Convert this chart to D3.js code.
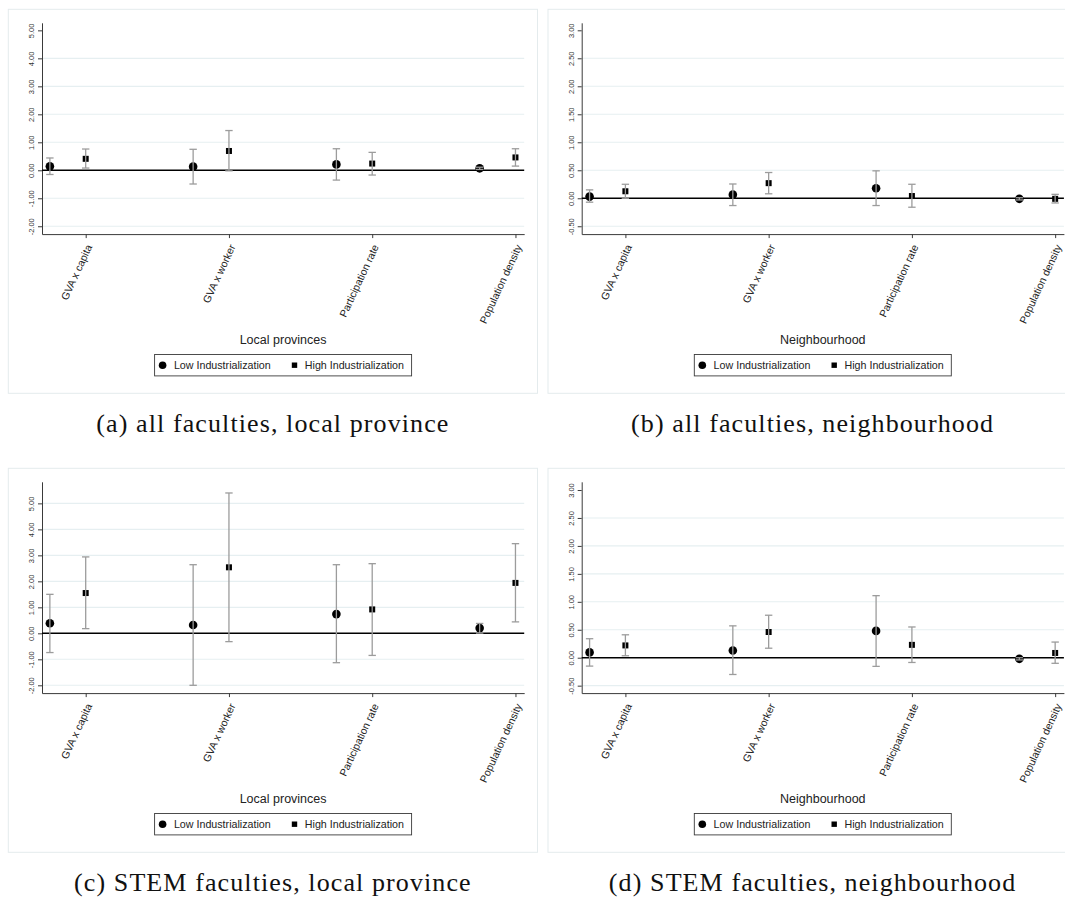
<!DOCTYPE html>
<html>
<head>
<meta charset="utf-8">
<script src="https://cdn.jsdelivr.net/npm/d3@7"></script>
<style>
  body { margin: 0; background: #ffffff; }
  svg { display: block; }
</style>
</head>
<body>
<svg id="fig" width="1065" height="897"></svg>
<script>
// Outcome variables on the x axis
const categories = ["GVA x capita", "GVA x worker", "Participation rate", "Population density"];
const seriesNames = ["Low Industrialization", "High Industrialization"];

// Y tick values
const ticksLocal = [-2, -1, 0, 1, 2, 3, 4, 5];
const ticksNeigh = [-0.5, 0, 0.5, 1, 1.5, 2, 2.5, 3];

// Y axis ranges
const rangeAllLocal = [-2.28, 5.27];
const rangeAllNeigh = [-0.64, 3.134];
const rangeStemLocal = [-2.30, 5.83];
const rangeStemNeigh = [-0.633, 3.147];

const axisTitles = ["Local provinces", "Neighbourhood", "Local provinces", "Neighbourhood"];
const captions = [
  "(a) all faculties, local province",
  "(b) all faculties, neighbourhood",
  "(c) STEM faculties, local province",
  "(d) STEM faculties, neighbourhood"
];

// (a) all faculties, local province: coefficient, lower and upper CI bounds
const allLocalLow     = [0.14, 0.13, 0.21, 0.07];
const allLocalLowLo   = [-0.15, -0.49, -0.35, 0.03];
const allLocalLowHi   = [0.44, 0.75, 0.77, 0.11];
const allLocalHigh    = [0.41, 0.69, 0.24, 0.46];
const allLocalHighLo  = [0.08, -0.02, -0.17, 0.15];
const allLocalHighHi  = [0.76, 1.42, 0.64, 0.77];

// (b) all faculties, neighbourhood
const allNeighLow     = [0.03, 0.065, 0.18, -0.01];
const allNeighLowLo   = [-0.07, -0.13, -0.13, -0.03];
const allNeighLowHi   = [0.15, 0.255, 0.49, 0.01];
const allNeighHigh    = [0.125, 0.27, 0.04, -0.01];
const allNeighHighLo  = [0.0, 0.08, -0.16, -0.084];
const allNeighHighHi  = [0.25, 0.46, 0.25, 0.07];

// (c) STEM faculties, local province
const stemLocalLow    = [0.385, 0.32, 0.74, 0.20];
const stemLocalLowLo  = [-0.74, -2.0, -1.13, 0.01];
const stemLocalLowHi  = [1.50, 2.64, 2.64, 0.38];
const stemLocalHigh   = [1.55, 2.54, 0.92, 1.94];
const stemLocalHighLo = [0.18, -0.32, -0.85, 0.44];
const stemLocalHighHi = [2.94, 5.40, 2.68, 3.45];

// (d) STEM faculties, neighbourhood
const stemNeighLow    = [0.095, 0.13, 0.48, -0.02];
const stemNeighLowLo  = [-0.15, -0.30, -0.155, -0.04];
const stemNeighLowHi  = [0.34, 0.57, 1.11, 0.0];
const stemNeighHigh   = [0.22, 0.46, 0.23, 0.085];
const stemNeighHighLo = [0.035, 0.17, -0.085, -0.10];
const stemNeighHighHi = [0.41, 0.76, 0.55, 0.28];

const panels = [
  { ticks: ticksLocal, range: rangeAllLocal,
    low: [allLocalLow, allLocalLowLo, allLocalLowHi], high: [allLocalHigh, allLocalHighLo, allLocalHighHi] },
  { ticks: ticksNeigh, range: rangeAllNeigh,
    low: [allNeighLow, allNeighLowLo, allNeighLowHi], high: [allNeighHigh, allNeighHighLo, allNeighHighHi] },
  { ticks: ticksLocal, range: rangeStemLocal,
    low: [stemLocalLow, stemLocalLowLo, stemLocalLowHi], high: [stemLocalHigh, stemLocalHighLo, stemLocalHighHi] },
  { ticks: ticksNeigh, range: rangeStemNeigh,
    low: [stemNeighLow, stemNeighLowLo, stemNeighLowHi], high: [stemNeighHigh, stemNeighHighLo, stemNeighHighHi] }
];

// ---- layout ----
const svg = d3.select("#fig");
const frameW = 529.2, frameH = 384;
const origins = [[8.3, 9.3], [548, 9.3], [8.3, 468.3], [548, 468.3]];
const plotL = 33.7, plotR = 515.9, plotT = 13.5, plotB = 224.8;
const sans = "'Liberation Sans', Arial, sans-serif";
const serif = "'Liberation Serif', 'Times New Roman', serif";
const ciColor = "#9c9c9c";
const fmt = d => d.toFixed(2);

const rows = d => categories.map((c, k) => ({ k, coef: d[0][k], lo: d[1][k], hi: d[2][k] }));

panels.forEach((p, i) => {
  const g = svg.append("g").attr("transform", `translate(${origins[i][0]},${origins[i][1]})`);

  g.append("rect")
    .attr("x", 0).attr("y", 0).attr("width", frameW).attr("height", frameH)
    .attr("fill", "#ffffff").attr("stroke", "#e4ebed").attr("stroke-width", 1);

  const x = d3.scaleLinear().domain([0.695, 4.061]).range([plotL, plotR]);
  const y = d3.scaleLinear().domain(p.range).range([plotB, plotT]);

  // horizontal grid lines (none close to the top of the plot region)
  g.append("g").selectAll("line")
    .data(p.ticks.filter(t => t !== 0 && y(t) > plotT + 10))
    .join("line")
    .attr("x1", plotL).attr("x2", plotR)
    .attr("y1", d => y(d)).attr("y2", d => y(d))
    .attr("stroke", "#e6eff1").attr("stroke-width", 1.1);

  // y axis
  const ya = g.append("g")
    .attr("transform", `translate(${plotL},0)`)
    .call(d3.axisLeft(y).tickValues(p.ticks).tickFormat(fmt).tickSize(4).tickSizeOuter(0));
  ya.select(".domain").attr("stroke", "#3a3a3a").attr("stroke-width", 1);
  ya.selectAll(".tick line").attr("stroke", "#3a3a3a");
  ya.selectAll(".tick text")
    .attr("x", null).attr("dy", null)
    .attr("transform", "translate(-7.6,0) rotate(-90)")
    .attr("text-anchor", "middle")
    .attr("font-family", sans).attr("font-size", 7.5).attr("fill", "#333");

  // x axis
  const xa = g.append("g")
    .attr("transform", `translate(0,${plotB})`)
    .call(d3.axisBottom(x).tickValues([1, 2, 3, 4]).tickFormat(v => categories[v - 1]).tickSize(4).tickSizeOuter(0));
  xa.select(".domain").attr("stroke", "#3a3a3a").attr("stroke-width", 1);
  xa.selectAll(".tick line").attr("stroke", "#3a3a3a");
  xa.selectAll(".tick text")
    .attr("y", null).attr("dy", "0.35em")
    .attr("transform", "translate(3,11) rotate(-65)")
    .attr("text-anchor", "end")
    .attr("font-family", sans).attr("font-size", 10.5).attr("fill", "#222");

  // reference line at zero
  g.append("line")
    .attr("x1", plotL).attr("x2", plotR)
    .attr("y1", y(0)).attr("y2", y(0))
    .attr("stroke", "#000").attr("stroke-width", 1.6);

  const low = rows(p.low), high = rows(p.high);
  const lowX = d => x(d.k + 1 - 0.25);
  const highX = d => x(d.k + 1);

  // point estimates
  g.append("g").selectAll("circle").data(low).join("circle")
    .attr("cx", lowX).attr("cy", d => y(d.coef)).attr("r", 4.3).attr("fill", "#000");
  g.append("g").selectAll("rect").data(high).join("rect")
    .attr("x", d => highX(d) - 3).attr("y", d => y(d.coef) - 3)
    .attr("width", 6).attr("height", 6).attr("fill", "#000");

  // confidence intervals with caps
  const drawCI = (data, xf) => {
    const cg = g.append("g").attr("stroke", ciColor).attr("stroke-width", 1.3).attr("fill", "none");
    cg.selectAll(".v").data(data).join("line").attr("class", "v")
      .attr("x1", xf).attr("x2", xf).attr("y1", d => y(d.lo)).attr("y2", d => y(d.hi));
    cg.selectAll(".t").data(data).join("line").attr("class", "t")
      .attr("x1", d => xf(d) - 3.7).attr("x2", d => xf(d) + 3.7).attr("y1", d => y(d.hi)).attr("y2", d => y(d.hi));
    cg.selectAll(".b").data(data).join("line").attr("class", "b")
      .attr("x1", d => xf(d) - 3.7).attr("x2", d => xf(d) + 3.7).attr("y1", d => y(d.lo)).attr("y2", d => y(d.lo));
  };
  drawCI(low, lowX);
  drawCI(high, highX);

  // axis title
  const cx = (plotL + plotR) / 2;
  g.append("text")
    .attr("x", cx).attr("y", 335)
    .attr("text-anchor", "middle")
    .attr("font-family", sans).attr("font-size", 12.5).attr("fill", "#222")
    .text(axisTitles[i]);

  // legend
  const lg = g.append("g").attr("transform", `translate(${cx - 128.5},345.2)`);
  lg.append("rect").attr("width", 257).attr("height", 21.4)
    .attr("fill", "#fff").attr("stroke", "#3a3a3a").attr("stroke-width", 0.9);
  lg.append("circle").attr("cx", 8).attr("cy", 10.7).attr("r", 3.8).attr("fill", "#000");
  lg.append("text").attr("x", 19.3).attr("y", 14.4)
    .attr("font-family", sans).attr("font-size", 10.7).attr("fill", "#222").text(seriesNames[0]);
  lg.append("rect").attr("x", 137.2).attr("y", 8).attr("width", 5.4).attr("height", 5.4).attr("fill", "#000");
  lg.append("text").attr("x", 150.2).attr("y", 14.4)
    .attr("font-family", sans).attr("font-size", 10.7).attr("fill", "#222").text(seriesNames[1]);

  // sub-figure caption
  g.append("text")
    .attr("x", frameW / 2).attr("y", frameH + 39)
    .attr("text-anchor", "middle")
    .attr("font-family", serif).attr("font-size", 26).attr("letter-spacing", 1.1).attr("fill", "#111")
    .text(captions[i]);
});
</script>
</body>
</html>
